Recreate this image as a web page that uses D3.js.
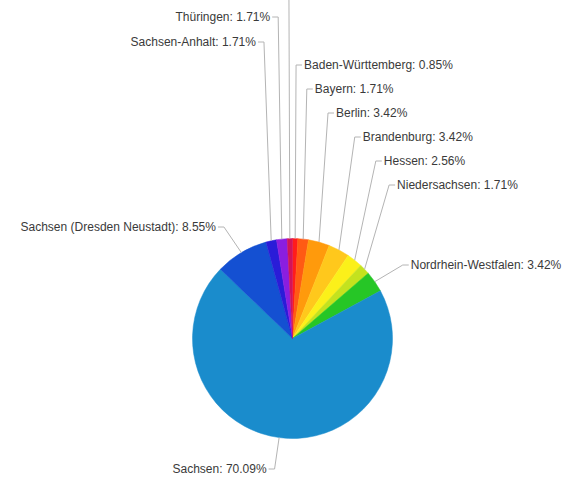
<!DOCTYPE html>
<html>
<head>
<meta charset="utf-8">
<script src="https://cdn.jsdelivr.net/npm/d3@7"></script>
<style>
  html, body { margin: 0; padding: 0; background: #fff; }
  svg { display: block; }
  text { font-family: "Liberation Sans", Arial, Helvetica, sans-serif; font-size: 12px; fill: #3a3a3a; }
</style>
</head>
<body>
<svg id="chart" width="569" height="479"></svg>
<script>
// Share of entries per federal state (percent), clockwise from 12 o'clock
const states = [
  "Baden-Württemberg", "Bayern", "Berlin", "Brandenburg", "Hessen",
  "Niedersachsen", "Nordrhein-Westfalen", "Sachsen", "Sachsen (Dresden Neustadt)",
  "Sachsen-Anhalt", "Thüringen", "Sonstige"
];
const shares = [0.85, 1.71, 3.42, 3.42, 2.56, 1.71, 3.42, 70.09, 8.55, 1.71, 1.71, 0.85];
const sliceColors = [
  "#ff1c1c", "#ff5a14", "#ff9a0c", "#ffc81c", "#fbf01a",
  "#c4e21e", "#26c626", "#1a8ccc", "#1450d2",
  "#2a1cd8", "#8a1ee0", "#d2145a"
];
// Vertical row of each label (px from top); the last one sits above the frame
const labelRows = [65, 89, 113, 137, 161, 185, 265, 469, 227, 42, 17, -7];
// Whether a label's text is drawn inside the frame
const labelShown = [true, true, true, true, true, true, true, true, true, true, true, false];

const svg = d3.select("#chart");
const cx = 292.5, cy = 338.5, r = 100, rLabel = 134;

const pie = d3.pie().sort(null).value(d => d.v).startAngle(0).endAngle(2 * Math.PI);
const arcs = pie(states.map((s, i) => ({ name: s, v: shares[i], i })));
const arc = d3.arc().innerRadius(0).outerRadius(r);

const g = svg.append("g").attr("transform", `translate(${cx},${cy})`);

g.selectAll("path.slice")
  .data(arcs)
  .join("path")
  .attr("class", "slice")
  .attr("d", arc)
  .attr("fill", d => sliceColors[d.data.i])
  .attr("stroke", d => sliceColors[d.data.i])
  .attr("stroke-width", 0.5);

// Leader lines and labels
const fmt = v => v.toFixed(2) + "%";
arcs.forEach(d => {
  const i = d.data.i;
  const a = (d.startAngle + d.endAngle) / 2;
  const sx = Math.sin(a), sy = -Math.cos(a);
  const right = sx >= 0.02;
  const ex = r * sx, ey = r * sy;              // point on the rim
  const kx = rLabel * sx;                       // elbow x
  const ky = labelRows[i] - cy;                 // elbow y (label row)
  const dir = right ? 1 : -1;
  const pts = labelShown[i]
    ? [[ex, ey], [kx, ky], [kx + dir * 6, ky]]
    : [[ex, ey], [kx, ky]];
  g.append("path")
    .attr("d", d3.line()(pts))
    .attr("fill", "none")
    .attr("stroke", "#b4b4b4")
    .attr("stroke-width", 1);
  if (labelShown[i]) {
    g.append("text")
      .attr("x", kx + dir * 8)
      .attr("y", ky)
      .attr("dy", "0.35em")
      .attr("text-anchor", right ? "start" : "end")
      .text(`${d.data.name}: ${fmt(d.data.v)}`);
  }
});
</script>
</body>
</html>
